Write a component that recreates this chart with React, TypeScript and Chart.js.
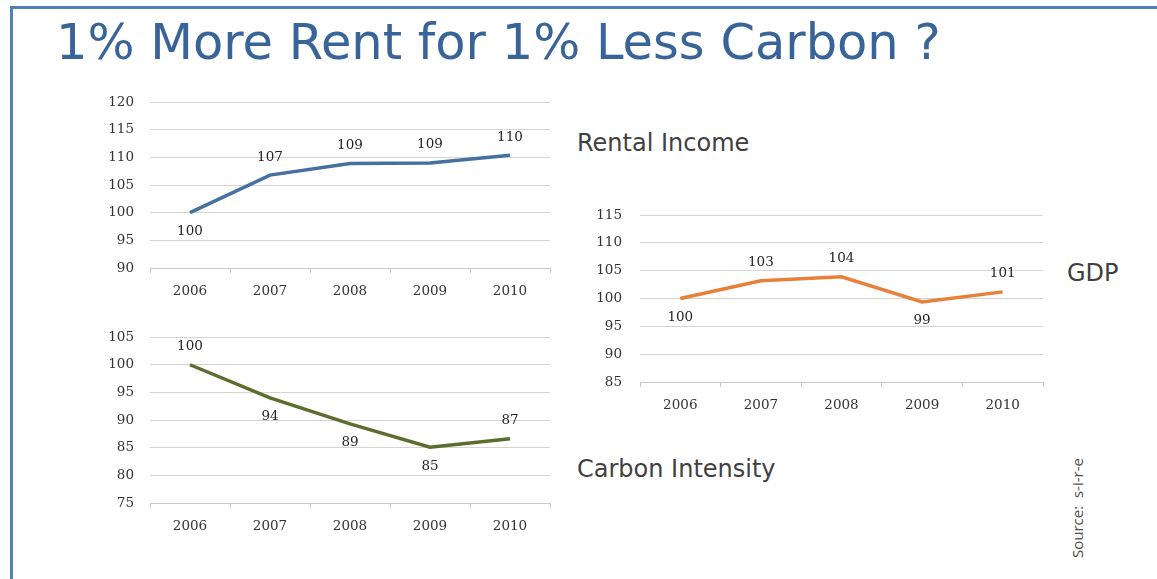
import React, { useEffect, useRef } from "react";
import { Chart, registerables } from "chart.js";

Chart.register(...registerables);

const years = ["2006", "2007", "2008", "2009", "2010"];
const rentalIncome = [100, 106.8, 108.9, 109.0, 110.4];
const carbonIntensity = [100, 94.0, 89.3, 85.1, 86.6];
const gdp = [100, 103.2, 103.9, 99.4, 101.2];

const rentalLabelPos = ["below", "above", "above", "above", "above"];
const carbonLabelPos = ["above", "below", "below", "below", "above"];
const gdpLabelPos = ["below", "above", "above", "below", "above"];

const SERIF = "'DejaVu Serif', serif";
const SANS = "'DejaVu Sans', Verdana, sans-serif";

const valueLabels = {
  id: "valueLabels",
  afterDatasetsDraw(chart: any, _args: any, opts: any) {
    const ctx = chart.ctx;
    const meta = chart.getDatasetMeta(0);
    const data = chart.data.datasets[0].data as number[];
    ctx.save();
    ctx.font = `13.5px ${SERIF}`;
    ctx.fillStyle = "#262626";
    ctx.textAlign = "center";
    ctx.textBaseline = "middle";
    meta.data.forEach((pt: any, i: number) => {
      const dy = opts.positions[i] === "above" ? -opts.offset : opts.offset + 1;
      ctx.fillText(String(Math.round(data[i])), pt.x, pt.y + dy);
    });
    ctx.restore();
  },
};

type Spec = {
  data: number[];
  color: string;
  min: number;
  max: number;
  positions: string[];
  yWidth: number;
  yPad: number;
};

function LineBox({ spec, left, top, width, height }: { spec: Spec; left: number; top: number; width: number; height: number }) {
  const ref = useRef<HTMLCanvasElement>(null);
  useEffect(() => {
    if (!ref.current) return;
    const chart = new Chart(ref.current, {
      type: "line",
      data: {
        labels: years,
        datasets: [
          {
            data: spec.data,
            borderColor: spec.color,
            borderWidth: 3.5,
            pointRadius: 0,
            tension: 0,
            fill: false,
          },
        ],
      },
      options: {
        responsive: false,
        animation: false,
        layout: { padding: { top: 10, right: 10, left: 0, bottom: 0 } },
        plugins: {
          legend: { display: false },
          tooltip: { enabled: false },
          valueLabels: { positions: spec.positions, offset: 18 },
        } as any,
        scales: {
          x: {
            offset: true,
            grid: { display: true, drawOnChartArea: false, drawTicks: true, tickLength: 5, color: "#c8c8c8", offset: true },
            border: { display: true, color: "#c8c8c8", width: 1 },
            ticks: { font: { family: SERIF, size: 13.5 }, color: "#333333", padding: 10, maxRotation: 0 },
            afterFit: (s: any) => {
              s.height = 35;
            },
          },
          y: {
            min: spec.min,
            max: spec.max,
            ticks: { stepSize: 5, font: { family: SERIF, size: 13.5 }, color: "#333333", padding: spec.yPad },
            grid: { color: "#d4d4d4", drawTicks: false, lineWidth: 1 },
            border: { display: false },
            afterFit: (s: any) => {
              s.width = spec.yWidth;
            },
          },
        },
      },
      plugins: [valueLabels as any],
    });
    return () => chart.destroy();
  }, []);
  return (
    <canvas
      ref={ref}
      width={width}
      height={height}
      style={{ position: "absolute", left, top, width, height }}
    />
  );
}

export default function App() {
  return (
    <div style={{ position: "absolute", left: 0, top: 0, width: 1157, height: 579, background: "#fff", overflow: "hidden" }}>
      <div style={{ position: "absolute", left: 10, top: 6, width: 1147, height: 2.5, background: "#4f81bd" }} />
      <div style={{ position: "absolute", left: 10, top: 6, width: 2.5, height: 573, background: "#4f81bd" }} />
      <div
        style={{
          position: "absolute",
          left: 56,
          top: 12,
          fontFamily: SANS,
          fontSize: 49.5,
          lineHeight: "60px",
          color: "#386499",
          whiteSpace: "nowrap",
        }}
      >
        1% More Rent for 1% Less Carbon ?
      </div>
      <LineBox
        spec={{ data: rentalIncome, color: "#45709f", min: 90, max: 120, positions: rentalLabelPos, yWidth: 60, yPad: 16 }}
        left={90}
        top={78}
        width={470}
        height={225}
      />
      <LineBox
        spec={{ data: carbonIntensity, color: "#5b6e2e", min: 75, max: 105, positions: carbonLabelPos, yWidth: 60, yPad: 16 }}
        left={90}
        top={313}
        width={470}
        height={225}
      />
      <LineBox
        spec={{ data: gdp, color: "#e8803a", min: 85, max: 115, positions: gdpLabelPos, yWidth: 60, yPad: 18 }}
        left={580}
        top={189}
        width={473}
        height={228}
      />
      <div style={{ position: "absolute", left: 577, top: 128, fontFamily: SANS, fontSize: 24, lineHeight: "30px", color: "#404040", whiteSpace: "nowrap" }}>
        Rental Income
      </div>
      <div style={{ position: "absolute", left: 577, top: 454, fontFamily: SANS, fontSize: 24, lineHeight: "30px", color: "#404040", whiteSpace: "nowrap" }}>
        Carbon Intensity
      </div>
      <div style={{ position: "absolute", left: 1067, top: 258, fontFamily: SANS, fontSize: 24, lineHeight: "30px", color: "#404040", whiteSpace: "nowrap" }}>
        GDP
      </div>
      <div
        style={{
          position: "absolute",
          left: 1067,
          top: 558,
          transform: "rotate(-90deg)",
          transformOrigin: "0 0",
          fontFamily: "'Open Sans', 'Noto Sans', sans-serif",
          fontSize: 15,
          lineHeight: "20px",
          color: "#4d4d4d",
          whiteSpace: "pre",
        }}
      >
        {"Source:  s-i-r-e"}
      </div>
    </div>
  );
}
